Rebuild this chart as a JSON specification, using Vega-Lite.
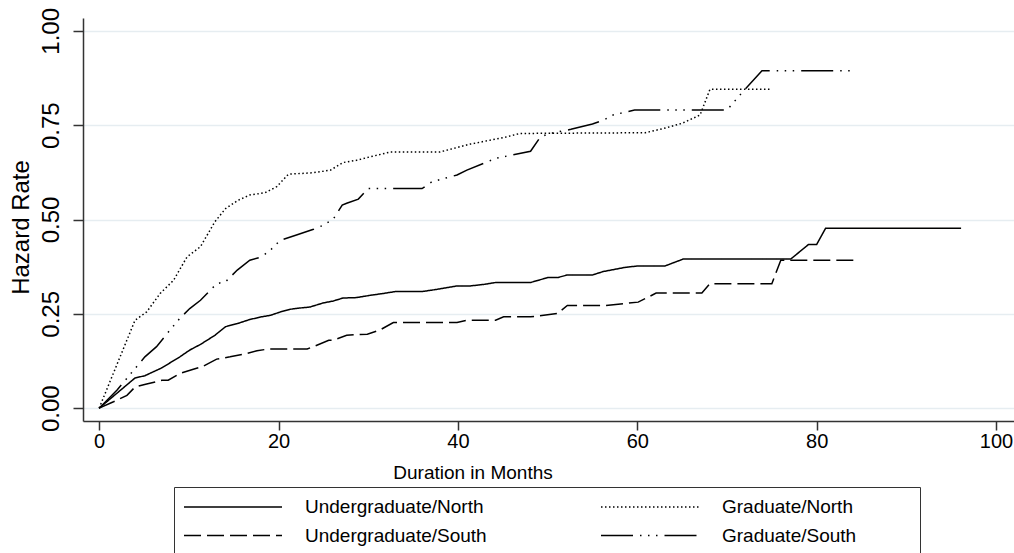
{
  "$schema": "https://vega.github.io/schema/vega-lite/v6.json",
  "width": 931,
  "height": 403,
  "autosize": {"type": "none"},
  "padding": {"left": 83, "top": 18, "right": 0, "bottom": 132},
  "background": "white",
  "config": {
    "view": {"stroke": null},
    "font": "Liberation Sans"
  },
  "data": {
    "values": [
      {"series": "Undergraduate/North", "month": 0, "rate": 0},
      {"series": "Undergraduate/North", "month": 4.0, "rate": 0.080},
      {"series": "Undergraduate/North", "month": 5.1, "rate": 0.086},
      {"series": "Undergraduate/North", "month": 7.0, "rate": 0.107},
      {"series": "Undergraduate/North", "month": 9.0, "rate": 0.136},
      {"series": "Undergraduate/North", "month": 10.1, "rate": 0.154},
      {"series": "Undergraduate/North", "month": 11.3, "rate": 0.169},
      {"series": "Undergraduate/North", "month": 12.9, "rate": 0.193},
      {"series": "Undergraduate/North", "month": 14.1, "rate": 0.216},
      {"series": "Undergraduate/North", "month": 15.4, "rate": 0.224},
      {"series": "Undergraduate/North", "month": 16.8, "rate": 0.235},
      {"series": "Undergraduate/North", "month": 18.1, "rate": 0.242},
      {"series": "Undergraduate/North", "month": 19.1, "rate": 0.246},
      {"series": "Undergraduate/North", "month": 20.2, "rate": 0.255},
      {"series": "Undergraduate/North", "month": 21.3, "rate": 0.262},
      {"series": "Undergraduate/North", "month": 22.2, "rate": 0.265},
      {"series": "Undergraduate/North", "month": 23.5, "rate": 0.268},
      {"series": "Undergraduate/North", "month": 25.0, "rate": 0.279},
      {"series": "Undergraduate/North", "month": 26.1, "rate": 0.284},
      {"series": "Undergraduate/North", "month": 27.2, "rate": 0.292},
      {"series": "Undergraduate/North", "month": 28.7, "rate": 0.293},
      {"series": "Undergraduate/North", "month": 30.2, "rate": 0.299},
      {"series": "Undergraduate/North", "month": 31.7, "rate": 0.304},
      {"series": "Undergraduate/North", "month": 33.0, "rate": 0.309},
      {"series": "Undergraduate/North", "month": 36.0, "rate": 0.309},
      {"series": "Undergraduate/North", "month": 37.7, "rate": 0.315},
      {"series": "Undergraduate/North", "month": 39.9, "rate": 0.324},
      {"series": "Undergraduate/North", "month": 41.4, "rate": 0.324},
      {"series": "Undergraduate/North", "month": 42.9, "rate": 0.328},
      {"series": "Undergraduate/North", "month": 44.2, "rate": 0.333},
      {"series": "Undergraduate/North", "month": 48.1, "rate": 0.333},
      {"series": "Undergraduate/North", "month": 50.0, "rate": 0.346},
      {"series": "Undergraduate/North", "month": 51.1, "rate": 0.346},
      {"series": "Undergraduate/North", "month": 52.2, "rate": 0.353},
      {"series": "Undergraduate/North", "month": 55.0, "rate": 0.353},
      {"series": "Undergraduate/North", "month": 56.2, "rate": 0.362},
      {"series": "Undergraduate/North", "month": 58.6, "rate": 0.373},
      {"series": "Undergraduate/North", "month": 60.1, "rate": 0.377},
      {"series": "Undergraduate/North", "month": 63.1, "rate": 0.377},
      {"series": "Undergraduate/North", "month": 65.1, "rate": 0.395},
      {"series": "Undergraduate/North", "month": 77.1, "rate": 0.395},
      {"series": "Undergraduate/North", "month": 79.1, "rate": 0.434},
      {"series": "Undergraduate/North", "month": 80.0, "rate": 0.434},
      {"series": "Undergraduate/North", "month": 81.0, "rate": 0.477},
      {"series": "Undergraduate/North", "month": 96.1, "rate": 0.477},

      {"series": "Undergraduate/South", "month": 0, "rate": 0},
      {"series": "Undergraduate/South", "month": 1.6, "rate": 0.017},
      {"series": "Undergraduate/South", "month": 3.1, "rate": 0.034},
      {"series": "Undergraduate/South", "month": 4.0, "rate": 0.056},
      {"series": "Undergraduate/South", "month": 5.3, "rate": 0.064},
      {"series": "Undergraduate/South", "month": 7.0, "rate": 0.074},
      {"series": "Undergraduate/South", "month": 7.7, "rate": 0.074},
      {"series": "Undergraduate/South", "month": 9.0, "rate": 0.092},
      {"series": "Undergraduate/South", "month": 10.5, "rate": 0.103},
      {"series": "Undergraduate/South", "month": 11.5, "rate": 0.110},
      {"series": "Undergraduate/South", "month": 13.1, "rate": 0.130},
      {"series": "Undergraduate/South", "month": 14.6, "rate": 0.136},
      {"series": "Undergraduate/South", "month": 16.1, "rate": 0.143},
      {"series": "Undergraduate/South", "month": 17.6, "rate": 0.152},
      {"series": "Undergraduate/South", "month": 18.9, "rate": 0.157},
      {"series": "Undergraduate/South", "month": 23.2, "rate": 0.157},
      {"series": "Undergraduate/South", "month": 23.9, "rate": 0.163},
      {"series": "Undergraduate/South", "month": 25.6, "rate": 0.180},
      {"series": "Undergraduate/South", "month": 26.1, "rate": 0.180},
      {"series": "Undergraduate/South", "month": 27.6, "rate": 0.193},
      {"series": "Undergraduate/South", "month": 28.7, "rate": 0.195},
      {"series": "Undergraduate/South", "month": 29.9, "rate": 0.196},
      {"series": "Undergraduate/South", "month": 31.3, "rate": 0.207},
      {"series": "Undergraduate/South", "month": 32.8, "rate": 0.227},
      {"series": "Undergraduate/South", "month": 39.9, "rate": 0.227},
      {"series": "Undergraduate/South", "month": 41.0, "rate": 0.233},
      {"series": "Undergraduate/South", "month": 44.2, "rate": 0.233},
      {"series": "Undergraduate/South", "month": 45.1, "rate": 0.242},
      {"series": "Undergraduate/South", "month": 48.1, "rate": 0.242},
      {"series": "Undergraduate/South", "month": 51.1, "rate": 0.251},
      {"series": "Undergraduate/South", "month": 52.2, "rate": 0.272},
      {"series": "Undergraduate/South", "month": 56.4, "rate": 0.272},
      {"series": "Undergraduate/South", "month": 60.1, "rate": 0.281},
      {"series": "Undergraduate/South", "month": 62.1, "rate": 0.305},
      {"series": "Undergraduate/South", "month": 67.2, "rate": 0.305},
      {"series": "Undergraduate/South", "month": 68.1, "rate": 0.330},
      {"series": "Undergraduate/South", "month": 75.0, "rate": 0.330},
      {"series": "Undergraduate/South", "month": 76.0, "rate": 0.392},
      {"series": "Undergraduate/South", "month": 84.1, "rate": 0.392},

      {"series": "Graduate/North", "month": 0, "rate": 0},
      {"series": "Graduate/North", "month": 4.0, "rate": 0.233},
      {"series": "Graduate/North", "month": 5.3, "rate": 0.255},
      {"series": "Graduate/North", "month": 6.8, "rate": 0.304},
      {"series": "Graduate/North", "month": 8.3, "rate": 0.339},
      {"series": "Graduate/North", "month": 9.8, "rate": 0.401},
      {"series": "Graduate/North", "month": 11.3, "rate": 0.428},
      {"series": "Graduate/North", "month": 12.9, "rate": 0.494},
      {"series": "Graduate/North", "month": 14.1, "rate": 0.529},
      {"series": "Graduate/North", "month": 15.5, "rate": 0.551},
      {"series": "Graduate/North", "month": 16.8, "rate": 0.565},
      {"series": "Graduate/North", "month": 18.5, "rate": 0.571},
      {"series": "Graduate/North", "month": 19.8, "rate": 0.587},
      {"series": "Graduate/North", "month": 21.1, "rate": 0.620},
      {"series": "Graduate/North", "month": 23.9, "rate": 0.624},
      {"series": "Graduate/North", "month": 25.8, "rate": 0.631},
      {"series": "Graduate/North", "month": 27.2, "rate": 0.651},
      {"series": "Graduate/North", "month": 28.7, "rate": 0.657},
      {"series": "Graduate/North", "month": 30.2, "rate": 0.666},
      {"series": "Graduate/North", "month": 32.5, "rate": 0.679},
      {"series": "Graduate/North", "month": 38.0, "rate": 0.679},
      {"series": "Graduate/North", "month": 41.4, "rate": 0.700},
      {"series": "Graduate/North", "month": 45.1, "rate": 0.717},
      {"series": "Graduate/North", "month": 46.9, "rate": 0.728},
      {"series": "Graduate/North", "month": 60.9, "rate": 0.730},
      {"series": "Graduate/North", "month": 62.9, "rate": 0.741},
      {"series": "Graduate/North", "month": 65.0, "rate": 0.755},
      {"series": "Graduate/North", "month": 67.0, "rate": 0.777},
      {"series": "Graduate/North", "month": 68.1, "rate": 0.845},
      {"series": "Graduate/North", "month": 75.0, "rate": 0.845},

      {"series": "Graduate/South", "month": 0, "rate": 0},
      {"series": "Graduate/South", "month": 2.0, "rate": 0.048},
      {"series": "Graduate/South", "month": 4.0, "rate": 0.105},
      {"series": "Graduate/South", "month": 5.1, "rate": 0.136},
      {"series": "Graduate/South", "month": 6.4, "rate": 0.163},
      {"series": "Graduate/South", "month": 7.9, "rate": 0.207},
      {"series": "Graduate/South", "month": 9.0, "rate": 0.238},
      {"series": "Graduate/South", "month": 10.1, "rate": 0.264},
      {"series": "Graduate/South", "month": 11.3, "rate": 0.286},
      {"series": "Graduate/South", "month": 13.1, "rate": 0.330},
      {"series": "Graduate/South", "month": 14.1, "rate": 0.335},
      {"series": "Graduate/South", "month": 15.4, "rate": 0.366},
      {"series": "Graduate/South", "month": 16.8, "rate": 0.392},
      {"series": "Graduate/South", "month": 18.1, "rate": 0.401},
      {"series": "Graduate/South", "month": 19.1, "rate": 0.419},
      {"series": "Graduate/South", "month": 20.2, "rate": 0.445},
      {"series": "Graduate/South", "month": 22.0, "rate": 0.459},
      {"series": "Graduate/South", "month": 23.9, "rate": 0.474},
      {"series": "Graduate/South", "month": 25.0, "rate": 0.485},
      {"series": "Graduate/South", "month": 26.1, "rate": 0.501},
      {"series": "Graduate/South", "month": 27.1, "rate": 0.538},
      {"series": "Graduate/South", "month": 27.6, "rate": 0.543},
      {"series": "Graduate/South", "month": 28.9, "rate": 0.554},
      {"series": "Graduate/South", "month": 30.0, "rate": 0.582},
      {"series": "Graduate/South", "month": 36.0, "rate": 0.582},
      {"series": "Graduate/South", "month": 37.1, "rate": 0.600},
      {"series": "Graduate/South", "month": 39.9, "rate": 0.618},
      {"series": "Graduate/South", "month": 41.0, "rate": 0.631},
      {"series": "Graduate/South", "month": 42.9, "rate": 0.649},
      {"series": "Graduate/South", "month": 44.2, "rate": 0.662},
      {"series": "Graduate/South", "month": 48.1, "rate": 0.681},
      {"series": "Graduate/South", "month": 49.2, "rate": 0.719},
      {"series": "Graduate/South", "month": 50.3, "rate": 0.728},
      {"series": "Graduate/South", "month": 52.6, "rate": 0.739},
      {"series": "Graduate/South", "month": 55.0, "rate": 0.753},
      {"series": "Graduate/South", "month": 56.2, "rate": 0.763},
      {"series": "Graduate/South", "month": 57.3, "rate": 0.777},
      {"series": "Graduate/South", "month": 59.7, "rate": 0.790},
      {"series": "Graduate/South", "month": 70.0, "rate": 0.790},
      {"series": "Graduate/South", "month": 72.0, "rate": 0.845},
      {"series": "Graduate/South", "month": 73.9, "rate": 0.894},
      {"series": "Graduate/South", "month": 84.1, "rate": 0.894}
    ]
  },
  "mark": {"type": "line", "color": "black", "strokeWidth": 1.5, "strokeCap": "butt"},
  "encoding": {
    "x": {
      "field": "month",
      "type": "quantitative",
      "scale": {"domain": [-1.8, 102], "nice": false, "zero": false},
      "axis": {
        "values": [0, 20, 40, 60, 80, 100],
        "grid": false,
        "domainColor": "#333333",
        "domainWidth": 1.5,
        "tickColor": "#333333",
        "tickWidth": 1.5,
        "tickSize": 9,
        "labelFont": "Liberation Sans",
        "labelFontSize": 20,
        "labelColor": "black",
        "labelBaseline": "alphabetic",
        "labelPadding": 17.7,
        "labelFlush": false,
        "labelOverlap": false,
        "title": "Duration in Months",
        "titleFont": "Liberation Sans",
        "titleFontSize": 19,
        "titleFontWeight": "normal",
        "titleColor": "black",
        "titleBaseline": "alphabetic",
        "titleX": 389.5,
        "titleY": 57
      }
    },
    "y": {
      "field": "rate",
      "type": "quantitative",
      "scale": {"domain": [-0.034, 1.034], "nice": false, "zero": false},
      "axis": {
        "values": [0, 0.25, 0.5, 0.75, 1],
        "format": ".2f",
        "grid": true,
        "gridColor": "#e6edf1",
        "gridWidth": 1.5,
        "domainColor": "#333333",
        "domainWidth": 1.5,
        "tickColor": "#333333",
        "tickWidth": 1.5,
        "tickSize": 10,
        "labelFont": "Liberation Sans",
        "labelFontSize": 24,
        "labelColor": "black",
        "labelAngle": -90,
        "labelAlign": "center",
        "labelBaseline": "alphabetic",
        "labelPadding": 15,
        "labelFlush": false,
        "labelOverlap": false,
        "title": "Hazard Rate",
        "titleFont": "Liberation Sans",
        "titleFontSize": 24,
        "titleFontWeight": "normal",
        "titleColor": "black",
        "titleAngle": -90,
        "titleBaseline": "alphabetic",
        "titleX": -55,
        "titleY": 209
      }
    },
    "strokeDash": {
      "field": "series",
      "type": "nominal",
      "scale": {
        "domain": ["Undergraduate/North", "Undergraduate/South", "Graduate/North", "Graduate/South"],
        "range": [[1, 0], [17, 6], [1.5, 2.5], [32, 7, 1.5, 6.5, 1.5, 6.5, 1.5, 7]]
      },
      "legend": {
        "orient": "none",
        "legendX": 91,
        "legendY": 469,
        "title": "\u00a0",
        "titleOrient": "right",
        "titleFontSize": 1,
        "titlePadding": 55,
        "columns": 2,
        "gridAlign": "all",
        "columnPadding": 111,
        "rowPadding": 7.5,
        "padding": 9,
        "strokeColor": "#333333",
        "symbolType": "M-1,0H8.8",
        "symbolSize": 400,
        "symbolStrokeWidth": 1.5,
        "symbolStrokeColor": "black",
        "labelFont": "Liberation Sans",
        "labelFontSize": 19,
        "labelColor": "black",
        "labelOffset": 100,
        "labelLimit": 500
      }
    }
  }
}
